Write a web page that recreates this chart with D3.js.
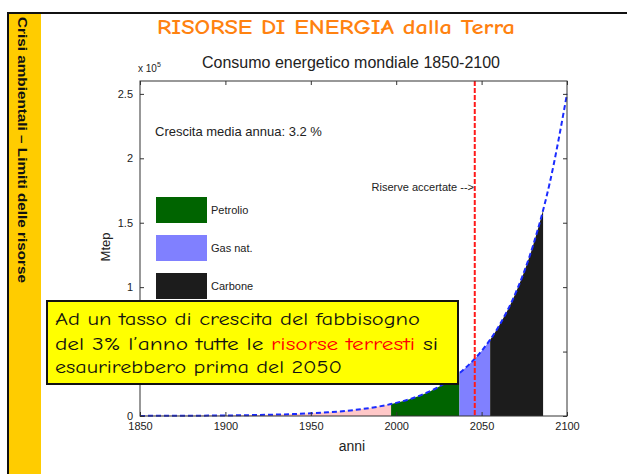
<!DOCTYPE html>
<html>
<head>
<meta charset="utf-8">
<script src="https://cdn.jsdelivr.net/npm/d3@7"></script>
<style>
  html, body { margin: 0; padding: 0; background: #fff; }
  svg { display: block; }
  .ax text { font-family: "Liberation Sans", Arial, sans-serif; font-size: 11px; fill: #222; }
</style>
</head>
<body>
<svg id="slide" width="627" height="474"></svg>
<script>
// World energy consumption (Mtep), one estimate every 10 years
const anni = [1850, 1860, 1870, 1880, 1890, 1900, 1910, 1920, 1930, 1940, 1950, 1960, 1970,
              1980, 1990, 2000, 2010, 2020, 2030, 2040, 2050, 2060, 2070, 2080, 2090, 2100];
const consumo = [80, 120, 160, 220, 300, 420, 570, 790, 1090, 1500, 2060, 2830, 3900,
                 5370, 7400, 10200, 14000, 19300, 26600, 36700, 50500, 69500, 95700, 131800, 181500, 250000];

// Energy sources and the span of years each one could cover
const fonti = ["Consumato", "Petrolio", "Gas nat.", "Carbone"];
const fonteInizio = [1850, 1997, 2037, 2055];
const fonteFine = [1997, 2037, 2055, 2086];
const fonteColori = ["#ffc8c8", "#006400", "#8080ff", "#1c1c1c"];

// Year of the proven-reserves line
const anniRiserve = 2046;

// Axis ticks
const xTicks = [1850, 1900, 1950, 2000, 2050, 2100];
const yTicks = [0, 50000, 100000, 150000, 200000, 250000];
const yTickLabels = ["0", "0.5", "1", "1.5", "2", "2.5"];

const svg = d3.select("#slide");
const comic = "'Comic Sans MS', 'Comic Neue', 'DejaVu Sans', sans-serif";
const arial = "'Liberation Sans', Arial, sans-serif";

// Slide frame and side band
svg.append("rect").attr("x", 9).attr("y", 14).attr("width", 32).attr("height", 460).attr("fill", "#ffcc00");
svg.append("line").attr("x1", 8).attr("x2", 627).attr("y1", 13).attr("y2", 13).attr("stroke", "#111").attr("stroke-width", 2);
svg.append("line").attr("x1", 8).attr("x2", 8).attr("y1", 12).attr("y2", 474).attr("stroke", "#111").attr("stroke-width", 2);
svg.append("text")
  .attr("transform", "translate(18,17) rotate(90)")
  .attr("font-family", arial).attr("font-weight", "bold").attr("font-size", 13)
  .attr("textLength", 266).attr("lengthAdjust", "spacingAndGlyphs")
  .attr("fill", "#111")
  .text("Crisi ambientali \u2013 Limiti delle risorse");

// Slide title
svg.append("text")
  .attr("x", 157).attr("y", 34)
  .attr("font-family", comic).attr("font-weight", "bold").attr("font-size", 20)
  .attr("textLength", 358).attr("lengthAdjust", "spacingAndGlyphs")
  .attr("fill", "#ff8210")
  .text("RISORSE DI ENERGIA dalla Terra");

// Plot area
const plotL = 140, plotR = 567, plotT = 81, plotB = 416;
const x = d3.scaleLinear().domain([1850, 2100]).range([plotL, plotR]);
const y = d3.scaleLinear().domain([0, 260000]).range([plotB, plotT]);

const curva = d3.line().x((d, i) => x(anni[i])).y(d => y(d)).curve(d3.curveMonotoneX);
const area = d3.area().x((d, i) => x(anni[i])).y0(y(0)).y1(d => y(d)).curve(d3.curveMonotoneX);

const defs = svg.append("defs");
fonti.forEach((f, i) => {
  defs.append("clipPath").attr("id", "fonte" + i)
    .append("rect")
    .attr("x", x(fonteInizio[i])).attr("y", plotT)
    .attr("width", x(fonteFine[i]) - x(fonteInizio[i]))
    .attr("height", plotB - plotT);
  svg.append("path")
    .datum(consumo)
    .attr("d", area)
    .attr("fill", fonteColori[i])
    .attr("clip-path", "url(#fonte" + i + ")");
});

// Consumption curve
svg.append("path")
  .datum(consumo)
  .attr("d", curva)
  .attr("fill", "none")
  .attr("stroke", "#1a2bff")
  .attr("stroke-width", 2)
  .attr("stroke-dasharray", "5,3");

// Proven reserves line
svg.append("line")
  .attr("x1", x(anniRiserve)).attr("x2", x(anniRiserve))
  .attr("y1", y.range()[1]).attr("y2", y.range()[0])
  .attr("stroke", "#ff1a1a").attr("stroke-width", 2)
  .attr("stroke-dasharray", "5,2");

// Axes (MATLAB style: inward ticks on all four sides)
const gx = svg.append("g").attr("class", "ax").attr("transform", `translate(0,${plotB})`)
  .call(d3.axisBottom(x).tickValues(xTicks).tickFormat(d3.format("d")).tickSizeInner(-4).tickSizeOuter(0).tickPadding(6));
const gxt = svg.append("g").attr("class", "ax").attr("transform", `translate(0,${plotT})`)
  .call(d3.axisTop(x).tickValues(xTicks).tickFormat("").tickSizeInner(-4).tickSizeOuter(0));
const gy = svg.append("g").attr("class", "ax").attr("transform", `translate(${plotL},0)`)
  .call(d3.axisLeft(y).tickValues(yTicks).tickFormat((d, i) => yTickLabels[i]).tickSizeInner(-4).tickSizeOuter(0).tickPadding(7));
const gyr = svg.append("g").attr("class", "ax").attr("transform", `translate(${plotR},0)`)
  .call(d3.axisRight(y).tickValues(yTicks).tickFormat("").tickSizeInner(-4).tickSizeOuter(0));
[gx, gxt, gy, gyr].forEach(g => {
  g.select(".domain").remove();
  g.selectAll(".tick line").attr("stroke", "#333");
});
svg.append("rect")
  .attr("x", plotL).attr("y", plotT).attr("width", plotR - plotL).attr("height", plotB - plotT)
  .attr("fill", "none").attr("stroke", "#333").attr("stroke-width", 1);

// Axis titles and chart title
svg.append("text")
  .attr("x", 351).attr("y", 68).attr("text-anchor", "middle")
  .attr("font-family", arial).attr("font-size", 16).attr("fill", "#222")
  .text("Consumo energetico mondiale 1850-2100");
const expo = svg.append("text").attr("x", 138).attr("y", 72)
  .attr("font-family", arial).attr("font-size", 10).attr("fill", "#222");
expo.append("tspan").text("x 10");
expo.append("tspan").attr("dy", -5).attr("font-size", 7).text("5");
svg.append("text")
  .attr("x", 352).attr("y", 451).attr("text-anchor", "middle")
  .attr("font-family", arial).attr("font-size", 14).attr("fill", "#222")
  .text("anni");
svg.append("text")
  .attr("transform", "translate(110,247) rotate(-90)").attr("text-anchor", "middle")
  .attr("font-family", arial).attr("font-size", 13).attr("fill", "#222")
  .text("Mtep");

// Annotations inside the plot
svg.append("text")
  .attr("x", 155).attr("y", 136)
  .attr("font-family", arial).attr("font-size", 13).attr("fill", "#222")
  .text("Crescita media annua: 3.2 %");
svg.append("text")
  .attr("x", 474).attr("y", 191).attr("text-anchor", "end")
  .attr("font-family", arial).attr("font-size", 11).attr("fill", "#222")
  .text("Riserve accertate -->");

// Legend
const legendTop = [197, 235, 273];
fonti.slice(1).forEach((f, i) => {
  svg.append("rect")
    .attr("x", 156).attr("y", legendTop[i]).attr("width", 51).attr("height", 26)
    .attr("fill", fonteColori[i + 1]);
  svg.append("text")
    .attr("x", 211).attr("y", legendTop[i] + 17)
    .attr("font-family", arial).attr("font-size", 11).attr("fill", "#222")
    .text(f);
});

// Callout box
svg.append("rect")
  .attr("x", 47).attr("y", 301).attr("width", 411).attr("height", 83)
  .attr("fill", "#ffff00").attr("stroke", "#111").attr("stroke-width", 2);
const box = svg.append("g").attr("font-family", comic).attr("font-size", 19).attr("fill", "#111");
box.append("text").attr("x", 55).attr("y", 325)
  .attr("textLength", 365).attr("lengthAdjust", "spacingAndGlyphs")
  .text("Ad un tasso di crescita del fabbisogno");
const l2 = box.append("text").attr("x", 55).attr("y", 350)
  .attr("textLength", 383).attr("lengthAdjust", "spacingAndGlyphs");
l2.append("tspan").text("del 3% l\u2019anno tutte le ");
l2.append("tspan").attr("fill", "#ff0000").text("risorse terresti");
l2.append("tspan").text(" si");
box.append("text").attr("x", 55).attr("y", 373)
  .attr("textLength", 287).attr("lengthAdjust", "spacingAndGlyphs")
  .text("esaurirebbero prima del 2050");
</script>
</body>
</html>
